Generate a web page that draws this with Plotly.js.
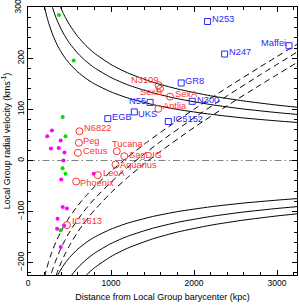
<!DOCTYPE html>
<html><head><meta charset="utf-8">
<script src="https://cdn.plot.ly/plotly-3.0.1.min.js"></script>
<style>html,body{margin:0;padding:0;background:#fff}#c{width:299px;height:305px}</style>
</head><body><div id="c"></div>
<script>
// ---- data ----
// solid curves (upper branch); lower branch holds the mirrored values
const escR1 = [200,225,250,300,350,400,450,500,600,700,800,1000,1200,1500,1800,2200,2600,3000,3250];
const escV1 = [300.0,282.9,268.4,245.0,226.8,212.2,200.0,189.8,173.2,160.4,150.0,134.2,122.5,109.6,100.0,90.5,83.2,77.5,74.4];
const escR2 = [293,325,350,400,450,500,600,700,800,1000,1200,1500,1800,2200,2600,3000,3250];
const escV2 = [300.0,284.8,274.5,256.8,242.1,229.6,209.6,194.1,181.5,162.4,148.2,132.6,121.0,109.5,100.7,93.8,90.1];
const escR3 = [392,420,450,500,600,700,800,1000,1200,1500,1800,2200,2600,3000,3250];
const escV3 = [300.0,289.8,280.0,265.6,242.5,224.5,210.0,187.8,171.5,153.4,140.0,126.6,116.5,108.4,104.2];
const escLowV1 = [-300.0,-282.9,-268.4,-245.0,-226.8,-212.2,-200.0,-189.8,-173.2,-160.4,-150.0,-134.2,-122.5,-109.6,-100.0,-90.5,-83.2,-77.5,-74.4];
const escLowV2 = [-300.0,-284.8,-274.5,-256.8,-242.1,-229.6,-209.6,-194.1,-181.5,-162.4,-148.2,-132.6,-121.0,-109.5,-100.7,-93.8,-90.1];
const escLowV3 = [-300.0,-289.8,-280.0,-265.6,-242.5,-224.5,-210.0,-187.8,-171.5,-153.4,-140.0,-126.6,-116.5,-108.4,-104.2];

// dashed flow curves
const flowR1 = [200,225,250,275,300,350,400,450,500,600,700,800,1000,1200,1400,1600,2000,2400,2800,3250];
const flowV1 = [-227.6,-211.4,-197.3,-184.8,-173.7,-154.4,-138.0,-123.6,-110.7,-88.3,-68.9,-51.5,-20.8,6.6,31.8,55.6,100.4,142.7,183.6,228.4];
const flowR2 = [250,275,300,350,400,450,500,600,700,800,1000,1200,1400,1600,2000,2400,2800,3250];
const flowV2 = [-238.3,-224.0,-211.2,-189.2,-170.6,-154.5,-140.1,-115.3,-94.1,-75.2,-42.3,-13.4,12.9,37.6,83.6,126.7,168.0,213.2];
const flowR3 = [300,350,400,450,500,600,700,800,1000,1200,1400,1600,2000,2400,2800,3250];
const flowV3 = [-243.7,-219.6,-199.2,-181.7,-166.2,-139.6,-117.0,-97.2,-63.0,-33.2,-6.4,18.5,64.6,107.4,148.2,192.6];

// green dots
const greenR = [373,550,418,452,416,452,394];
const greenV = [284.6,195.9,85.4,47.5,-15.0,-26.0,-136.3];
// magenta dots
const magR = [288,232,394,276,370,439,427,400,791,418,469,356,434,350,394];
const magV = [58.6,47.5,39.1,23.4,24.4,15.6,0,-37.1,-26.0,-90.8,-94.1,-113.9,-127.0,-133.4,-169.0];
// red open circles
const redNames = ['N3109','SexB','SexA','Antlia','N6822','Peg','Cetus','Tucana','SagDIG','Aquarius','LeoA','Phoenix','IC1613'];
const redR = [1572,1590,1710,1570,620,613,601,1069,1160,1054,841,580,469];
const redV = [147.5,140.6,125.0,101.2,57.2,34.6,15.0,18.2,8.4,-7.8,-28.7,-41.0,-126.4];
// blue open squares
const blueNames = ['N253','N247','Maffei','GR8','N300','IC5152','N55','UKS','EGB'];
const blueR = [2163,2368,3144,1845,1978,1690,1470,1281,961];
const blueV = [272.0,208.4,224.6,151.8,115.8,76.4,113.7,95.1,82.0];
// tick labels
const xTicks = [0,1000,2000,3000];
const yTicks = [-200,-100,0,100,200,300];

// ---- label placement (style) ----
const redLab = [['right',-1,5],['right',2,-3],['left',5,3],['left',5,2.5],['left',4.7,3.4],['left',4.6,1.6],['left',5,1.6],['left',-4.8,7],['left',4.3,1.7],['left',4.7,0],['left',5,2.4],['left',4,-1.5],['left',5,4]];
const blueLab = [['left',4,2.7],['left',4.6,2],['right',-2.6,2.7],['left',4,1.6],['left',4.4,1.7],['left',5,2],['right',-4,1.3],['left',3.4,-1.7],['left',4,1.7]];

const RED = 'rgb(255,50,50)', BLUE = 'rgb(40,40,255)';
const FONT = 'Liberation Sans, Arial, sans-serif';
const solid = {color:'#000', width:1};
const dashed = {color:'#000', width:1, dash:'6px,4px'};

const traces = [];
[[escR1,escV1],[escR2,escV2],[escR3,escV3],[escR1,escLowV1],[escR2,escLowV2],[escR3,escLowV3]].forEach(p=>{
  traces.push({x:p[0], y:p[1], mode:'lines', line:Object.assign({shape:'spline',smoothing:0.6},solid), hoverinfo:'skip'});
});
[[flowR1,flowV1],[flowR2,flowV2],[flowR3,flowV3]].forEach(p=>{
  traces.push({x:p[0], y:p[1], mode:'lines', line:Object.assign({shape:'spline',smoothing:0.6},dashed), hoverinfo:'skip'});
});
traces.push({x:greenR, y:greenV, mode:'markers', marker:{symbol:'circle', size:4, color:'#00e000'}});
traces.push({x:magR, y:magV, mode:'markers', marker:{symbol:'circle', size:4, color:'#ff00ff'}});
traces.push({x:redR, y:redV, mode:'markers', marker:{symbol:'circle-open', size:7, color:RED, line:{width:1,color:RED}}});
traces.push({x:blueR, y:blueV, mode:'markers', marker:{symbol:'square-open', size:6, color:BLUE, line:{width:1,color:BLUE}}});

const annotations = [];
function addLabels(names, xs, ys, lab, col){
  names.forEach((n,i)=>{
    annotations.push({x:xs[i], y:ys[i], xref:'x', yref:'y', text:n, showarrow:false,
      xanchor:lab[i][0], yanchor:'middle', xshift:lab[i][1], yshift:lab[i][2],
      borderpad:0, borderwidth:0, font:{family:FONT, size:9.3, color:col}});
  });
}
addLabels(redNames, redR, redV, redLab, RED);
addLabels(blueNames, blueR, blueV, blueLab, BLUE);

// top y tick label, kept fully inside the page as a rotated annotation
const yTop = yTicks[yTicks.length-1];
annotations.push({xref:'paper', x:0, yref:'paper', y:1, text:String(yTop), showarrow:false, textangle:-90,
  xanchor:'center', yanchor:'top', xshift:-10.5, yshift:7, borderpad:0, borderwidth:0,
  font:{family:FONT, size:8.5, color:'#000'}});

const fmtY = v => v === yTop ? '' : (v < 0 ? '\u2212' + (-v) : String(v));

const axisCommon = {showline:true, linecolor:'#000', linewidth:1, mirror:'allticks', ticks:'inside',
  ticklen:5, tickwidth:1, tickcolor:'#000', showgrid:false, zeroline:false, ticklabeloverflow:'allow',
  tickfont:{family:FONT, size:8.5, color:'#000'}};

const layout = {
  width:299, height:305, margin:{l:28, r:2, t:7, b:30},
  paper_bgcolor:'#fff', plot_bgcolor:'#fff', showlegend:false,
  font:{family:FONT, color:'#000'},
  xaxis:Object.assign({}, axisCommon, {range:[0,3240], tickvals:xTicks, ticktext:xTicks.map(String),
    minor:{dtick:200, tick0:0, ticks:'inside', ticklen:2.7, tickcolor:'#000', showgrid:false},
    title:{text:'Distance from Local Group barycenter (kpc)', font:{size:9, color:'#000'}, standoff:6}}),
  yaxis:Object.assign({}, axisCommon, {range:[-224,300.4], tickvals:yTicks, ticktext:yTicks.map(fmtY), tickangle:-90,
    minor:{dtick:20, tick0:0, ticks:'inside', ticklen:2.7, tickcolor:'#000', showgrid:false},
    title:{text:'Local Group radial velocity (kms<sup>-1</sup>)', font:{size:9, color:'#000'}, standoff:3}}),
  shapes:[{type:'line', xref:'paper', x0:0, x1:1, yref:'y', y0:0, y1:0, line:{color:'#808080', width:1, dash:'7px,3px,1.5px,3px'}, layer:'below'}],
  annotations:annotations
};
Plotly.newPlot('c', traces, layout, {staticPlot:true, displayModeBar:false});
</script></body></html>
